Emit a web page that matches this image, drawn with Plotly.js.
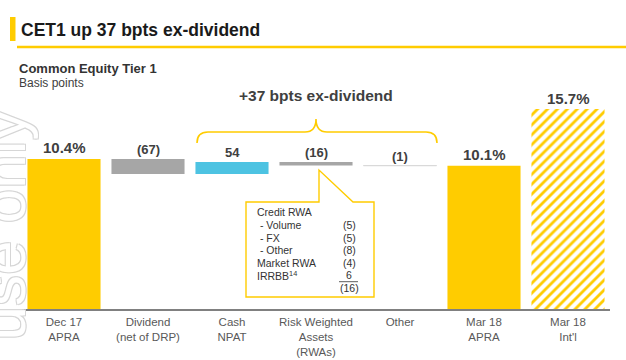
<!DOCTYPE html>
<html>
<head>
<meta charset="utf-8">
<script src="https://cdn.plot.ly/plotly-3.0.1.min.js"></script>
<style>html,body{margin:0;padding:0;background:#fff;}#chart{width:626px;height:360px;}</style>
</head>
<body>
<div id="chart"></div>
<script>
// ---- data ----
const categories = ["Dec 17<br>APRA", "Dividend<br>(net of DRP)", "Cash<br>NPAT", "Risk Weighted<br>Assets<br>(RWAs)", "Other", "Mar 18<br>APRA", "Mar 18<br>Int'l"];
const measures = ["total", "delta", "delta", "delta", "delta", "total"];
const bpsValues = [1040, -67, 54, -16, -1, 1010];   // basis points
const intlValue = 1570;                              // Mar 18 Int'l, basis points
const bracketLabel = "+37 bpts ex-dividend";
const rwaItems = ["Credit RWA", "\u00A0- Volume", "\u00A0- FX", "\u00A0- Other", "Market RWA", "IRRBB<sup>14</sup>", ""];
const rwaValues = [null, -5, -5, -8, -4, 6, -16];

// ---- style ----
const YEL = "#FFCC00";
const barColors = [YEL, "#A6A6A6", "#4DC3E2", "#A6A6A6", "#D9D9D9", YEL];
const lineWidths = [0, 0, 0, 0, 1, 0];
const FONT = "Liberation Sans, Arial, sans-serif";
const NARROW = "Liberation Sans Narrow, Arial Narrow, Liberation Sans, Arial, sans-serif";

// geometry of plot area (pixels)
const L = 22, R = 16, T = 100, Bm = 51, WIDTH = 626, HEIGHT = 360;
const W = WIDTH - L - R, H = HEIGHT - T - Bm, B = HEIGHT - Bm;
const px = x => (x - L) / W;
const py = y => (B - y) / H;

// ---- waterfall bases computed from data ----
const mainCats = categories.slice(0, bpsValues.length);
const bases = [], ys = [], tops = [];
let running = 0;
bpsValues.forEach((v, i) => {
  if (measures[i] === "total") { bases.push(0); ys.push(v); running = v; tops.push(v); }
  else { bases.push(running); ys.push(v); tops.push(Math.max(running, running + v)); running += v; }
});
const fmtDelta = v => v < 0 ? "(" + (-v) + ")" : String(v);
const fmtPct = v => (v / 100).toFixed(1) + "%";

const traces = [
  {
    type: "bar", x: mainCats, y: ys, base: bases,
    marker: { color: barColors, line: { color: "#D9D9D9", width: lineWidths } },
    hoverinfo: "skip", showlegend: false
  },
  {
    type: "bar", x: [categories[6]], y: [intlValue], yaxis: "y2",
    marker: { color: YEL, line: { width: 0 }, pattern: { shape: "/", bgcolor: "#FFFFFF", size: 7, solidity: 0.4 } },
    hoverinfo: "skip", showlegend: false
  }
];

const annotations = [];
bpsValues.forEach((v, i) => {
  const isTot = measures[i] === "total";
  annotations.push({
    x: mainCats[i], y: tops[i], xref: "x", yref: "y",
    text: "<b>" + (isTot ? fmtPct(v) : fmtDelta(v)) + "</b>",
    showarrow: false, yanchor: "middle", yshift: isTot ? 11 : 9,
    font: { family: FONT, size: isTot ? 15 : 13, color: "#404040" }
  });
});
annotations.push({
  x: categories[6], y: intlValue, xref: "x", yref: "y2",
  text: "<b>" + fmtPct(intlValue) + "</b>", showarrow: false, yanchor: "middle", yshift: 11,
  font: { family: FONT, size: 15, color: "#404040" }
});
// bracket label
annotations.push({
  x: px(316), y: py(95), xref: "paper", yref: "paper", text: "<b>" + bracketLabel + "</b>",
  showarrow: false, xanchor: "center", yanchor: "middle",
  font: { family: FONT, size: 15.5, color: "#404040" }
});
// subtitles
annotations.push({
  x: px(17), y: py(68), xref: "paper", yref: "paper", text: "<b>Common Equity Tier 1</b>",
  showarrow: false, xanchor: "left", yanchor: "middle", font: { family: FONT, size: 13, color: "#333333" }
});
annotations.push({
  x: px(17), y: py(83), xref: "paper", yref: "paper", text: "Basis points",
  showarrow: false, xanchor: "left", yanchor: "middle", font: { family: NARROW, size: 12, color: "#404040" }
});
// callout rows
rwaItems.forEach((t, i) => {
  const yy = 212.3 + i * 12.6;
  if (t) annotations.push({
    x: px(255), y: py(yy), xref: "paper", yref: "paper", text: t, showarrow: false,
    xanchor: "left", yanchor: "middle", font: { family: FONT, size: 10.5, color: "#333333" }
  });
  if (rwaValues[i] !== null) annotations.push({
    x: px(349), y: py(yy), xref: "paper", yref: "paper", text: fmtDelta(rwaValues[i]), showarrow: false,
    xanchor: "center", yanchor: "middle", font: { family: FONT, size: 10.5, color: "#333333" }
  });
});
// watermark
annotations.push({
  x: px(3), y: py(108), xref: "paper", yref: "paper", text: "use only", textangle: -90,
  showarrow: false, xanchor: "center", yanchor: "top",
  font: { family: FONT, size: 62, color: "#FFFFFF",
          shadow: "-1px -1px 0 #D6D6D6, 1px -1px 0 #D6D6D6, -1px 1px 0 #D6D6D6, 1px 1px 0 #D6D6D6" }
});

const braceD = `M ${px(197)},${py(143)} Q ${px(197)},${py(132)} ${px(208)},${py(132)} L ${px(305)},${py(132)} Q ${px(316)},${py(132)} ${px(316)},${py(119)} Q ${px(316)},${py(132)} ${px(327)},${py(132)} L ${px(426)},${py(132)} Q ${px(437)},${py(132)} ${px(437)},${py(143)}`;
const calloutD = `M ${px(246)},${py(202)} L ${px(319)},${py(202)} L ${px(319)},${py(170)} L ${px(353)},${py(202)} L ${px(374)},${py(202)} L ${px(374)},${py(297)} L ${px(246)},${py(297)} Z`;

const shapes = [
  { type: "rect", xref: "paper", yref: "paper", x0: px(10), x1: px(15.5), y0: py(41), y1: py(17), fillcolor: YEL, line: { width: 0 } },
  { type: "line", xref: "paper", yref: "paper", x0: px(17), x1: px(626), y0: py(47), y1: py(47), line: { color: YEL, width: 2.5 } },
  { type: "path", xref: "paper", yref: "paper", path: braceD, line: { color: YEL, width: 1.6 } },
  { type: "path", xref: "paper", yref: "paper", path: calloutD, fillcolor: "#FFFFFF", line: { color: YEL, width: 1.4 } },
  { type: "line", xref: "paper", yref: "paper", x0: px(339), x1: px(358), y0: py(281.7), y1: py(281.7), line: { color: "#333333", width: 0.8 } }
];

const layout = {
  width: WIDTH, height: HEIGHT,
  margin: { l: L, r: R, t: T, b: Bm, autoexpand: false },
  paper_bgcolor: "#FFFFFF", plot_bgcolor: "#FFFFFF",
  title: { text: "<b>CET1 up 37 bpts ex-dividend</b>", xref: "container", yref: "container",
           x: 21 / WIDTH, xanchor: "left", y: 1 - 30 / HEIGHT, yanchor: "middle",
           font: { family: FONT, size: 17.5, color: "#1A1A1A" } },
  barmode: "overlay", bargap: 0.13,
  xaxis: { type: "category", categoryorder: "array", categoryarray: categories, range: [-0.5, 6.5],
           showline: true, linecolor: "#808080", linewidth: 1.5, ticks: "", showgrid: false, zeroline: false,
           ticklabelstandoff: 2,
           tickfont: { family: NARROW, size: 11.5, color: "#595959" }, fixedrange: true },
  yaxis: { range: [376, 1301], visible: false, showgrid: false, zeroline: false, fixedrange: true },
  yaxis2: { range: [0, intlValue * H / 200], overlaying: "y", visible: false, showgrid: false, zeroline: false, fixedrange: true },
  annotations: annotations, shapes: shapes, showlegend: false
};

Plotly.newPlot("chart", traces, layout, { staticPlot: true, displayModeBar: false });
</script>
</body>
</html>
